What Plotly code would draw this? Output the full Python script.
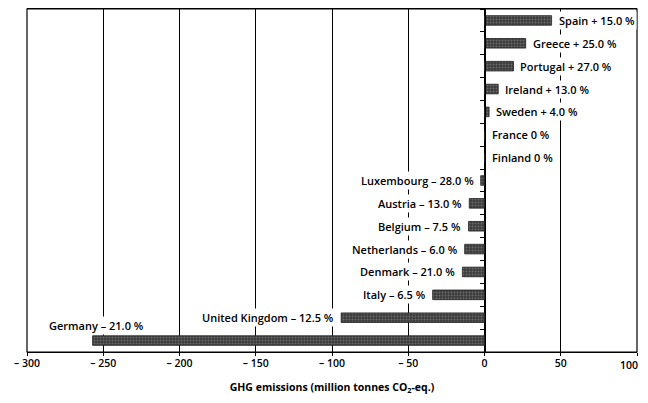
import plotly.graph_objects as go

countries = ["Spain", "Greece", "Portugal", "Ireland", "Sweden", "France", "Finland",
             "Luxembourg", "Austria", "Belgium", "Netherlands", "Denmark", "Italy",
             "United Kingdom", "Germany"]
changes = ["+ 15.0 %", "+ 25.0 %", "+ 27.0 %", "+ 13.0 %", "+ 4.0 %", "0 %", "0 %",
           "– 28.0 %", "– 13.0 %", "– 7.5 %", "– 6.0 %", "– 21.0 %", "– 6.5 %",
           "– 12.5 %", "– 21.0 %"]
values = [44, 27, 19, 9, 3, 0, 0, -2.5, -10, -10.5, -13, -14.5, -34, -94, -257]

tick_vals = [-300, -250, -200, -150, -100, -50, 0, 50, 100]
tick_text = ["– 300", "– 250", "– 200", "– 150", "– 100", "– 50", "0", "50", "100"]

FONT = "Open Sans"
TICKFONT = dict(family=FONT, size=10.5, color="black", weight=600)

fig = go.Figure()
fig.add_trace(go.Bar(
    x=values, y=countries, orientation="h", width=0.42,
    marker=dict(color="#4a4a4a", line=dict(color="#222", width=0.8),
                pattern=dict(shape=".", fgcolor="#9a9a9a", bgcolor="#3a3a3a",
                             size=3, solidity=0.35)),
    hoverinfo="skip",
))

annotations = []
for c, ch, v in zip(countries, changes, values):
    text = f"{c} {ch}"
    if v < -200:
        annotations.append(dict(x=-222, y=c, text=text, xanchor="right",
                                yanchor="middle", yshift=15, showarrow=False))
    elif v < 0:
        annotations.append(dict(x=v, y=c, text=text, xanchor="right",
                                yanchor="middle", xshift=-5, showarrow=False))
    else:
        annotations.append(dict(x=v, y=c, text=text, xanchor="left",
                                yanchor="middle", xshift=5, showarrow=False))
for a in annotations:
    a.update(bgcolor="white", borderpad=1,
             font=dict(family=FONT, size=11, color="black", weight=600))

# last tick label sits at the page edge; draw it right-aligned so it is not clipped
axis_text = list(tick_text)
last_label = axis_text[-1]
axis_text[-1] = ""
annotations.append(dict(x=tick_vals[-1], y=0, xref="x", yref="paper", text=last_label,
                        xanchor="right", yanchor="top", xshift=3, yshift=-4,
                        showarrow=False, font=TICKFONT))

# the page body has an 8px default margin, so the figure is sized/offset to fit
fig.update_layout(
    width=640, height=387,
    margin=dict(l=19, r=11, t=1, b=43, autoexpand=False),
    paper_bgcolor="white", plot_bgcolor="white",
    showlegend=False,
    annotations=annotations,
    xaxis=dict(
        range=[-300, 100], tickvals=tick_vals, ticktext=axis_text,
        automargin=False, ticklabeloverflow="allow",
        showgrid=True, gridcolor="black", gridwidth=1, zeroline=False,
        showline=True, linecolor="black", linewidth=1.2, mirror=True,
        ticks="outside", ticklen=3, tickcolor="black", ticklabelstandoff=-2,
        tickfont=TICKFONT,
        title=dict(text="GHG emissions (million tonnes CO<sub>2</sub>-eq.)",
                   font=dict(family=FONT, size=10.5, color="black", weight=700),
                   standoff=17),
    ),
    yaxis=dict(
        range=[14.5, -0.5], categoryorder="array", categoryarray=countries,
        automargin=False,
        showticklabels=False, showgrid=False, zeroline=False,
        anchor="free", position=0.75, showline=True, linecolor="black",
        linewidth=1.2, ticks="outside", ticklen=4, tickcolor="black",
        tickson="boundaries",
    ),
    shapes=[dict(type="rect", xref="paper", yref="paper", x0=0, x1=1, y0=0, y1=1,
                 line=dict(color="black", width=1.2), layer="above")],
)

fig.write_html("out.html")
